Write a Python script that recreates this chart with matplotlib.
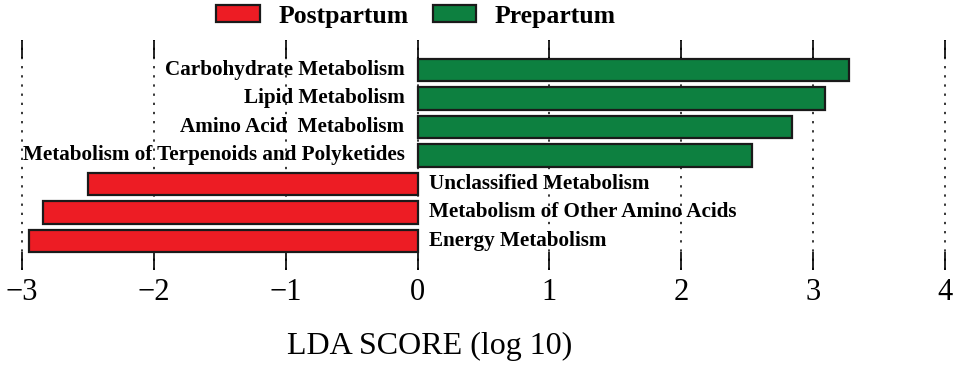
import matplotlib
matplotlib.use("Agg")
import matplotlib.pyplot as plt
from matplotlib.patches import Patch

plt.rcParams['font.family'] = ['Liberation Serif', 'DejaVu Serif']

categories = ["Energy Metabolism", "Metabolism of Other Amino Acids", "Unclassified Metabolism",
              "Metabolism of Terpenoids and Polyketides", "Amino Acid  Metabolism",
              "Lipid Metabolism", "Carbohydrate Metabolism"]
lda_scores = [-2.95, -2.84, -2.50, 2.54, 2.84, 3.09, 3.27]
groups = ["Postpartum", "Postpartum", "Postpartum", "Prepartum", "Prepartum", "Prepartum", "Prepartum"]
group_names = ["Postpartum", "Prepartum"]
group_colors = {"Postpartum": "#ED1C24", "Prepartum": "#0D8040"}
xticks = [-3, -2, -1, 0, 1, 2, 3, 4]

fig = plt.figure(figsize=(9.57, 3.68), dpi=100)
ax = fig.add_axes([22/957, 1-270/368, 923/957, 230/368])

ypos = list(range(len(categories)))
ax.barh(ypos, lda_scores, height=0.78, color=[group_colors[g] for g in groups],
        edgecolor="#1a1a1a", linewidth=1.6, zorder=3)

for y, v, name in zip(ypos, lda_scores, categories):
    if v > 0:
        ax.text(-0.1, y, name, ha="right", va="center", fontsize=15.2, fontweight="bold", zorder=4)
    else:
        ax.text(0.09, y, name, ha="left", va="center", fontsize=15.2, fontweight="bold", zorder=4)

ax.set_xlim(-3, 4)
ax.set_ylim(-1.02, 7.05)
ax.set_xticks(xticks)
ax.set_xticklabels(["\u2212" + str(-t) if t < 0 else str(t) for t in xticks], fontsize=22)
ax.set_yticks([])
for t in xticks:
    ax.axvline(t, color="black", linestyle=(0, (1.5, 4.5)), linewidth=1.1, zorder=1, clip_on=False)
ax.tick_params(axis="x", direction="in", length=13, width=1.2, top=True, bottom=True, pad=6)
for s in ax.spines.values():
    s.set_visible(False)

ax.set_xlabel("LDA SCORE (log 10)", fontsize=23, va="center")
ax.xaxis.set_label_coords((430-22)/923, (270-346)/230)

handles = [Patch(facecolor=group_colors[g], edgecolor="#1a1a1a", linewidth=1.6, label=g) for g in group_names]
fig.legend(handles=handles, loc="center", bbox_to_anchor=(416/957, 1-16/368), ncol=2,
           frameon=False, prop={"size": 18.5, "weight": "bold"}, handlelength=1.7,
           handleheight=0.6, handletextpad=0.72, columnspacing=0.95, borderpad=0)

fig.savefig("out.png", dpi=100)
